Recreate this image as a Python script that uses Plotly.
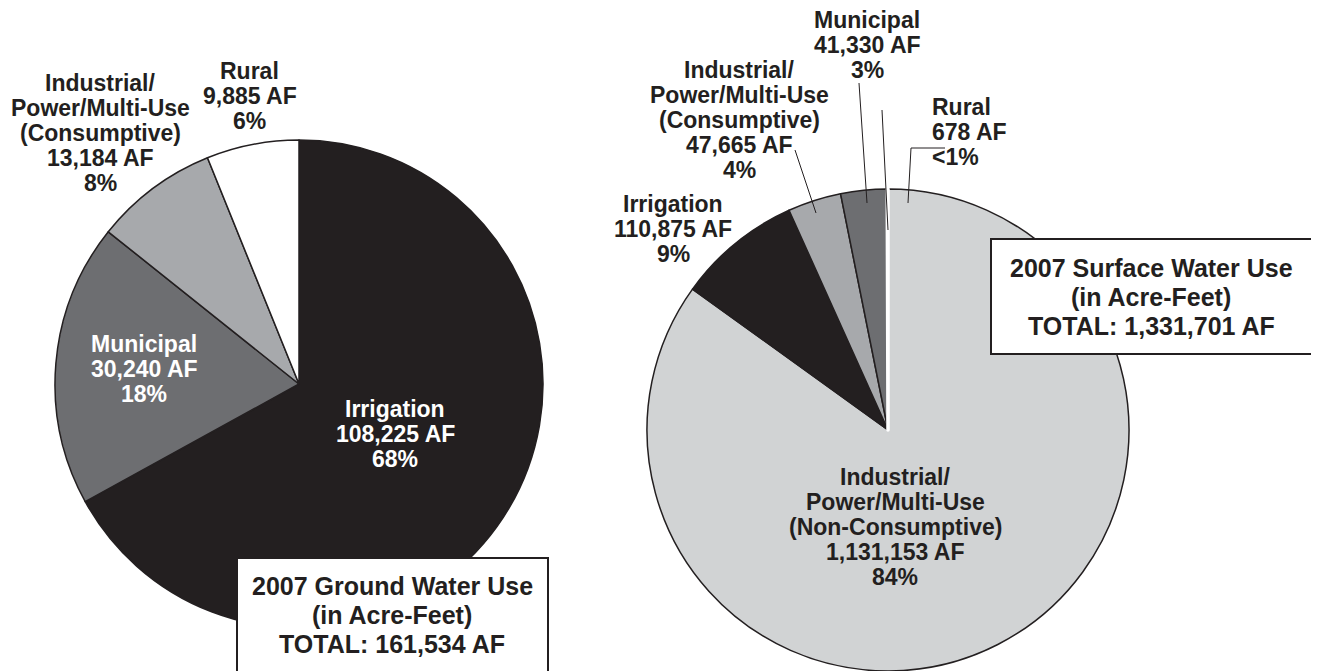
import plotly.graph_objects as go

W, H = 1319, 671
PAGE_MARGIN = 8  # default body margin of the written html page
FONT = "Liberation Sans"
INK = "#231f20"

# 2007 ground water use (acre-feet)
gw_names = ["Irrigation", "Municipal", "Industrial/<br>Power/Multi-Use<br>(Consumptive)", "Rural"]
gw_values = [108225, 30240, 13184, 9885]
gw_pct = ["68%", "18%", "8%", "6%"]
gw_colors = [INK, "#6d6e71", "#a7a9ac", "#ffffff"]

# 2007 surface water use (acre-feet)
sw_names = ["Industrial/<br>Power/Multi-Use<br>(Non-Consumptive)", "Irrigation",
            "Industrial/<br>Power/Multi-Use<br>(Consumptive)", "Municipal", "Rural"]
sw_values = [1131153, 110875, 47665, 41330, 678]
sw_pct = ["84%", "9%", "4%", "3%", "<1%"]
sw_colors = ["#d1d3d4", INK, "#a7a9ac", "#6d6e71", "#ffffff"]

FW, FH = W - PAGE_MARGIN, H - PAGE_MARGIN


# screen pixel -> paper fraction
def px(x):
    return (x - PAGE_MARGIN) / FW


def py(y):
    return 1 - (y - PAGE_MARGIN) / FH


def pie_domain(cx, cy, r):
    return dict(x=[px(cx - r), px(cx + r)], y=[max(0, py(cy + r)), py(cy - r)])


fig = go.Figure()

fig.add_trace(go.Pie(
    labels=gw_names, values=gw_values, sort=False,
    direction="clockwise", rotation=0,
    marker=dict(colors=gw_colors, line=dict(color=INK, width=1.5)),
    textinfo="none", hoverinfo="skip", showlegend=False,
    domain=pie_domain(299, 384, 244),
))

fig.add_trace(go.Pie(
    labels=sw_names, values=sw_values, sort=False,
    direction="clockwise", rotation=0,
    marker=dict(colors=sw_colors,
                line=dict(color=[INK] * 4 + ["#ffffff"], width=[1.5] * 4 + [3.5])),
    textinfo="none", hoverinfo="skip", showlegend=False,
    domain=pie_domain(888, 430, 241),
))


def add_lines(x, y, lines, color=INK, size=23, step=25, anchor="center"):
    for i, line in enumerate(lines):
        fig.add_annotation(
            x=px(x), y=py(y + i * step), xref="paper", yref="paper",
            text=line, showarrow=False, xanchor=anchor, yanchor="middle",
            font=dict(family=FONT, size=size, color=color, weight="bold"),
        )


def slice_lines(names, values, pct, i):
    return names[i].split("<br>") + [f"{values[i]:,} AF", pct[i]]


# slice labels
gw_pos = [(395, 409, "#ffffff", "center"), (144, 344, "#ffffff", "center"),
          (101, 83, INK, "center"), (250, 71, INK, "center")]
for i, (x, y, c, a) in enumerate(gw_pos):
    add_lines(x, y, slice_lines(gw_names, gw_values, gw_pct, i), color=c, anchor=a)

sw_pos = [(895, 477, INK, "center"), (673, 204, INK, "center"),
          (739, 70, INK, "center"), (867, 20, INK, "center"), (930, 107, INK, "left")]
for i, (x, y, c, a) in enumerate(sw_pos):
    add_lines(x, y, slice_lines(sw_names, sw_values, sw_pct, i), color=c, anchor=a)

# leader lines for the thin surface water slices
leaders = [
    [(795, 150), (816, 213)],
    [(859, 83), (867, 203)],
    [(882, 110), (888, 230)],
    [(945, 148), (911, 148), (908, 203)],
]
for pts in leaders:
    for (x0, y0), (x1, y1) in zip(pts[:-1], pts[1:]):
        fig.add_shape(type="line", xref="paper", yref="paper",
                      x0=px(x0), y0=py(y0), x1=px(x1), y1=py(y1),
                      line=dict(color=INK, width=1), layer="above")

# title boxes
boxes = [
    ((237, 558, 548, 700), 392, 586, "2007 Ground Water Use", sum(gw_values)),
    ((991, 239, 1312, 354), 1151, 268, "2007 Surface Water Use", sum(sw_values)),
]
for (x0, y0, x1, y1), tx, ty, title, total in boxes:
    fig.add_shape(type="rect", xref="paper", yref="paper",
                  x0=px(x0), y0=py(y0), x1=px(x1), y1=py(y1),
                  fillcolor="#ffffff", line=dict(color=INK, width=2), layer="above")
    add_lines(tx, ty, [title, "(in Acre-Feet)", f"TOTAL: {total:,} AF"], size=25, step=29)

fig.update_layout(
    width=FW, height=FH,
    margin=dict(l=0, r=0, t=0, b=0),
    paper_bgcolor="#ffffff", plot_bgcolor="#ffffff",
    font=dict(family=FONT, color=INK),
)

fig.write_html("out.html")
